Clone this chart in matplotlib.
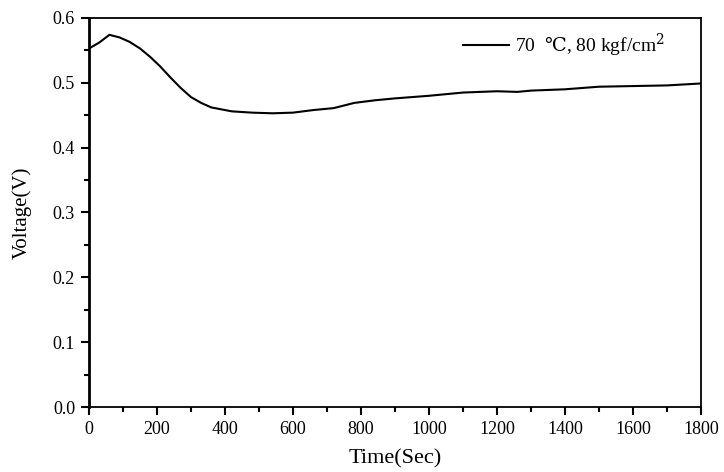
import matplotlib
matplotlib.use('Agg')
import matplotlib.pyplot as plt
from matplotlib.ticker import MultipleLocator

# data
time_sec = [0, 30, 60, 90, 120, 150, 180, 210, 240, 270, 300, 330, 360, 420, 480,
            540, 600, 660, 720, 780, 840, 900, 1000, 1100, 1200, 1260, 1300, 1400,
            1500, 1600, 1700, 1800]
voltage = [0.553, 0.562, 0.574, 0.570, 0.563, 0.553, 0.540, 0.525, 0.508, 0.492,
           0.478, 0.469, 0.462, 0.456, 0.454, 0.453, 0.454, 0.458, 0.461, 0.469,
           0.473, 0.476, 0.480, 0.485, 0.487, 0.486, 0.488, 0.490, 0.494, 0.495,
           0.496, 0.499]
label = '70  $\\mathrm{\u2103}$, 80 kgf/cm$^{2}$'

plt.rcParams['font.family'] = ['Liberation Serif', 'DejaVu Serif']
plt.rcParams['mathtext.fontset'] = 'dejavuserif'

fig = plt.figure(figsize=(7.24, 4.72), dpi=100)
ax = fig.add_axes([0.1229, 0.1377, 0.8453, 0.8242])

ax.plot(time_sec, voltage, color='black', linewidth=1.5, label=label)

ax.set_xlim(0, 1800)
ax.set_ylim(0.0, 0.6)
ax.xaxis.set_major_locator(MultipleLocator(200))
ax.xaxis.set_minor_locator(MultipleLocator(100))
ax.yaxis.set_major_locator(MultipleLocator(0.1))
ax.yaxis.set_minor_locator(MultipleLocator(0.05))
ax.yaxis.set_major_formatter(plt.FormatStrFormatter('%.1f'))
ax.tick_params(which='both', direction='out', top=False, right=False, labelsize=13)
ax.tick_params(which='major', length=6, width=1.5, pad=4)
ax.tick_params(which='minor', length=3.5, width=1.5)
for side in ['left', 'bottom', 'top', 'right']:
    ax.spines[side].set_linewidth(1.3)
ax.spines['left'].set_linewidth(2)

ax.set_xlabel('Time(Sec)', fontsize=16, labelpad=8)
ax.set_ylabel('Voltage(V)', fontsize=15, labelpad=15)

ax.legend(loc='upper right', frameon=False, fontsize=14, handlelength=2.4,
          handletextpad=0.3, bbox_to_anchor=(0.97, 1.01))

fig.savefig('out.png', dpi=100)
